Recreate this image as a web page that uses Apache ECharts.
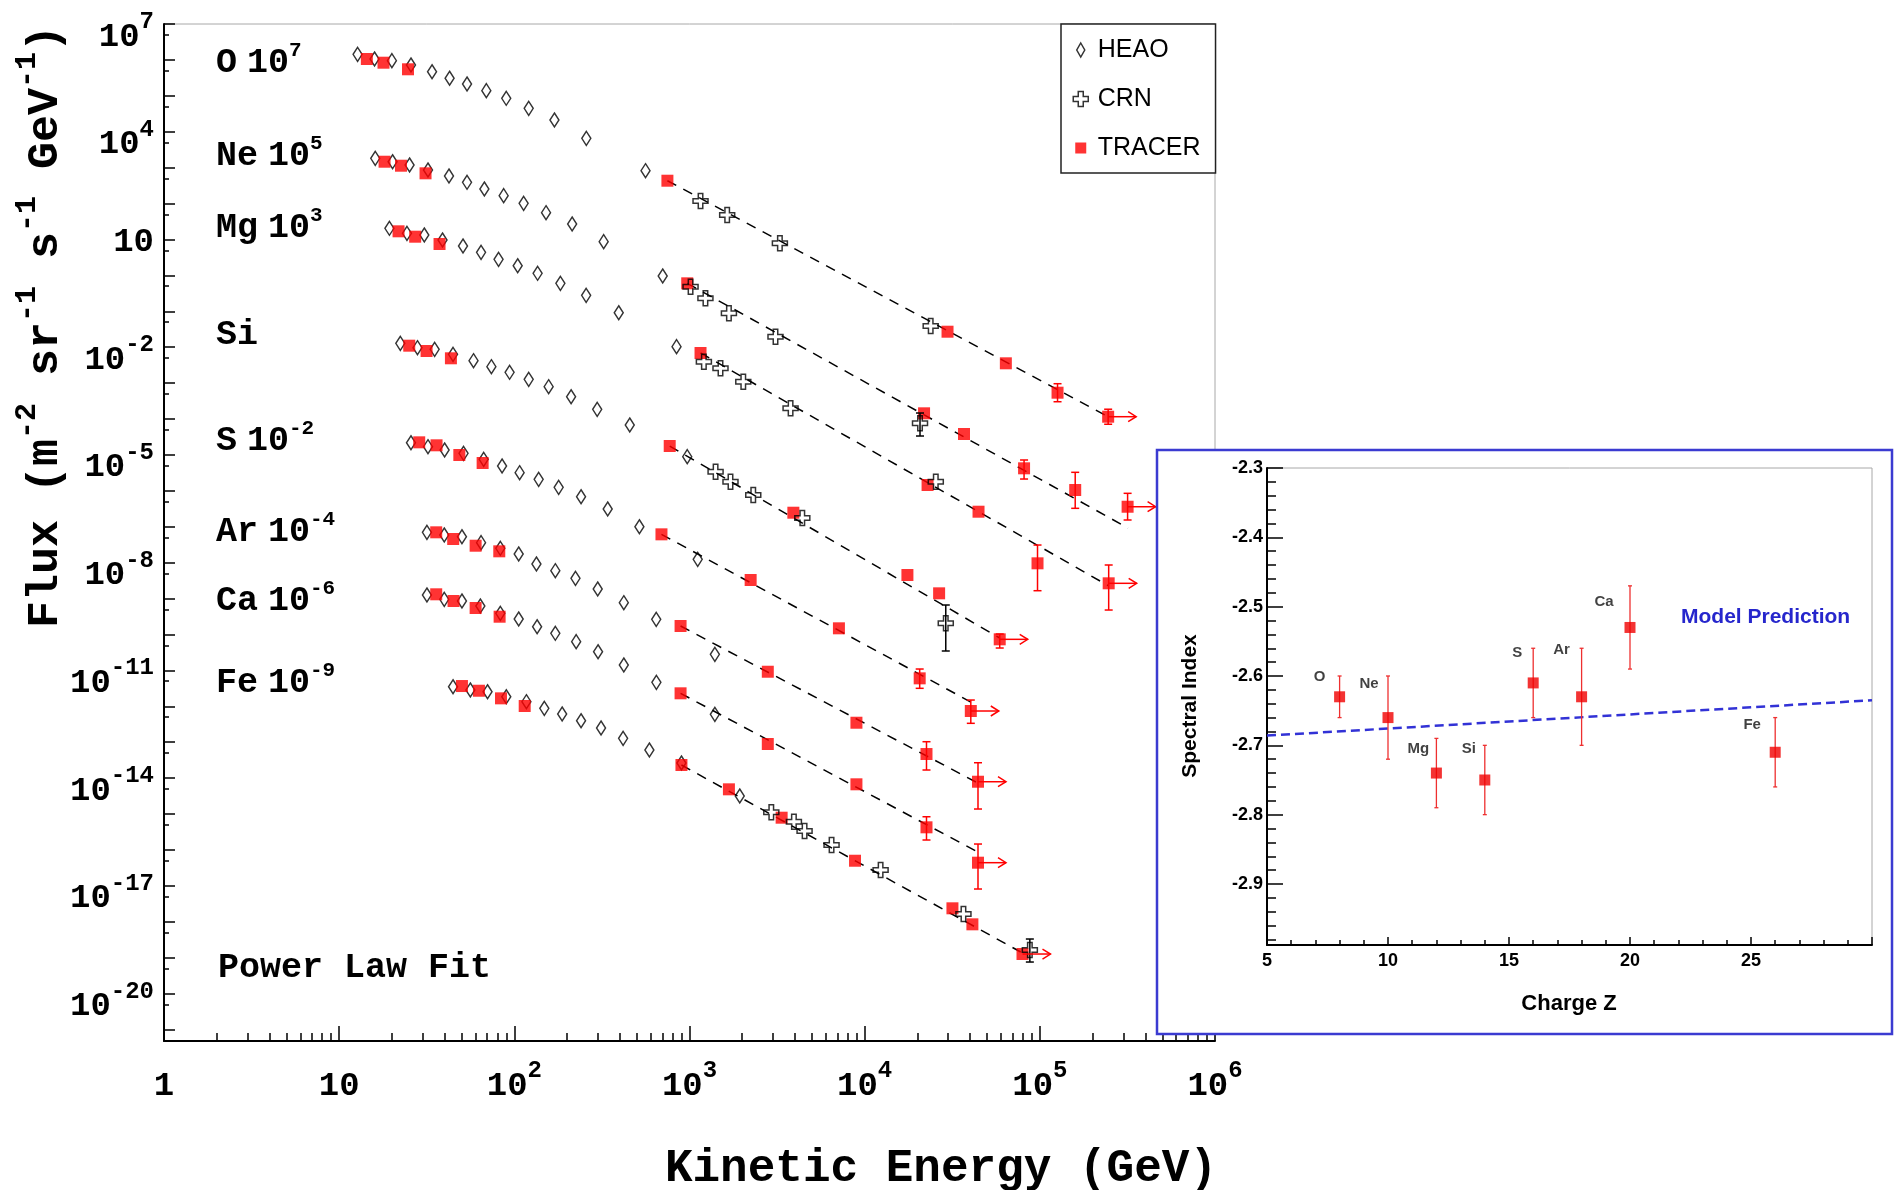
<!DOCTYPE html>
<html><head><meta charset="utf-8">
<script src="https://cdn.jsdelivr.net/npm/echarts@6/dist/echarts.min.js"></script>
<style>html,body{margin:0;padding:0;background:#fff}#main{width:1896px;height:1190px}</style>
</head><body><div id="main"></div>
<script>
// ---------------- DATA (energy in GeV, flux scaled as plotted) ----------------
const O_heaoE = [12.74, 15.92, 20.0, 25.7, 33.9, 42.7, 53.7, 69.2, 89.9, 120.8, 169.4, 257.6, 561];
const O_heaoF = [1.43e6, 1.06e6, 9.51e5, 7.21e5, 4.69e5, 3.08e5, 2.13e5, 1.39e5, 8.53e4, 4.49e4, 2.12e4, 6.56e3, 822];
const O_tracerE = [14.39, 17.91, 24.72, 748, 29720, 63970, 126200, 245500];
const O_tracerF = [1.06e6, 8.36e5, 5.48e5, 432.5, 2.70e-2, 3.56e-3, 5.41e-4, 1.16e-4];
const O_tracerLo = [null, null, null, null, null, null, 3.03e-4, 7.16e-5];
const O_tracerHi = [null, null, null, null, null, null, 9.62e-4, 1.875e-4];
const O_crnE = [1156, 1641, 3281, 23820];
const O_crnF = [117.8, 47.97, 7.816, 0.0389];
const O_crnLo = [null, null, null, null];
const O_crnHi = [null, null, null, null];
const O_fitE = [748, 245500];
const O_fitF = [432.5, 1.159e-4];

const Ne_heaoE = [16.07, 20.18, 25.23, 32.14, 42.36, 53.70, 67.45, 86.90, 113.0, 151.7, 213.8, 323.6, 703.1];
const Ne_heaoF = [1820, 1462, 1186, 859, 585, 391, 254, 165.6, 101.6, 55.6, 26.9, 8.67, 0.959];
const Ne_tracerE = [18.16, 22.54, 31.12, 970.6, 21830, 36900, 81280, 159200, 317000];
const Ne_tracerF = [1462, 1132, 695, 0.601, 1.442e-4, 3.83e-5, 4.24e-6, 1.054e-6, 3.61e-7];
const Ne_tracerLo = [null, null, null, null, null, null, 2.133e-6, 3.26e-7, 1.542e-7];
const Ne_tracerHi = [null, null, null, null, null, null, 7.23e-6, 3.28e-6, 8.53e-7];
const Ne_crnE = [1014, 1233, 1679, 3097, 20700];
const Ne_crnF = [0.483, 0.2296, 0.0879, 0.01959, 7.59e-5];
const Ne_crnLo = [null, null, null, null, 3.365e-5];
const Ne_crnHi = [null, null, null, null, 1.469e-4];
const Ne_fitE = [970.6, 318400];
const Ne_fitF = [0.601, 9.23e-8];

const Mg_heaoE = [19.36, 24.38, 30.62, 38.90, 50.93, 64.57, 81.28, 104.5, 135.8, 183.2, 257.0, 394.5, 843.3];
const Mg_heaoF = [20.46, 14.83, 13.30, 9.66, 6.58, 4.385, 2.799, 1.858, 1.143, 0.601, 0.2786, 0.0912, 0.01033];
const Mg_tracerE = [21.83, 27.16, 37.41, 1156, 22860, 44670, 97000, 247200];
const Mg_tracerF = [16.87, 11.94, 7.48, 6.89e-3, 1.452e-6, 2.624e-7, 9.59e-9, 2.661e-9];
const Mg_tracerLo = [null, null, null, null, null, null, 1.656e-9, 4.80e-10];
const Mg_tracerHi = [null, null, null, null, null, null, 3.097e-8, 8.61e-9];
const Mg_crnE = [1208, 1503, 2028, 3776, 25470];
const Mg_crnF = [3.945e-3, 2.582e-3, 1.094e-3, 1.986e-4, 1.795e-6];
const Mg_crnLo = [null, null, null, null, null];
const Mg_crnHi = [null, null, null, null, null];
const Mg_fitE = [1156, 247700];
const Mg_fitF = [6.89e-3, 2.239e-9];

const Si_heaoE = [22.34, 27.99, 35.08, 44.67, 58.48, 73.96, 93.97, 120.8, 157.0, 210.9, 297.2, 456.0, 970.6];
const Si_heaoF = [0.01282, 9.68e-3, 8.73e-3, 6.34e-3, 4.207e-3, 2.864e-3, 2.000e-3, 1.276e-3, 7.94e-4, 4.18e-4, 1.862e-4, 6.81e-5, 8.93e-6];
const Si_tracerE = [25.12, 31.55, 43.45, 771.0, 3917, 17540, 26610, 59020];
const Si_tracerF = [0.01102, 7.83e-3, 4.909e-3, 1.770e-5, 2.46e-7, 4.53e-9, 1.400e-9, 7.33e-11];
const Si_tracerLo = [null, null, null, null, null, null, null, 4.20e-11];
const Si_tracerHi = [null, null, null, null, null, null, null, 1.030e-10];
const Si_crnE = [1409, 1714, 2312, 4406, 29040];
const Si_crnF = [3.41e-6, 1.795e-6, 7.66e-7, 1.750e-7, 2.046e-10];
const Si_crnLo = [null, null, null, null, 3.47e-11];
const Si_crnHi = [null, null, null, null, 6.62e-10];
const Si_fitE = [771, 59020];
const Si_fitF = [1.770e-5, 7.98e-11];

const S_heaoE = [25.70, 32.14, 39.99, 51.29, 66.83, 85.11, 107.2, 137.7, 179.1, 240.4, 341.2, 517.6, 1114];
const S_heaoF = [2.188e-5, 1.694e-5, 1.371e-5, 1.109e-5, 7.55e-6, 4.91e-6, 3.199e-6, 2.094e-6, 1.253e-6, 6.86e-7, 3.119e-7, 1.002e-7, 1.239e-8];
const S_tracerE = [28.64, 35.97, 48.53, 65.92, 691.8, 2234, 7129, 20610, 40360];
const S_tracerF = [2.244e-5, 1.854e-5, 9.95e-6, 5.96e-6, 6.15e-8, 3.289e-9, 1.486e-10, 6.01e-12, 7.40e-13];
const S_tracerLo = [null, null, null, null, null, null, null, 3.17e-12, 3.36e-13];
const S_tracerHi = [null, null, null, null, null, null, null, 1.092e-11, 1.496e-12];
const S_crnE = [];
const S_crnF = [];
const S_crnLo = [];
const S_crnHi = [];
const S_fitE = [691.8, 40360];
const S_fitF = [6.15e-8, 1.315e-12];

const Ar_heaoE = [31.70, 39.81, 50.23, 64.57, 83.18, 105.9, 133.7, 171.4, 223.4, 299.2, 421.7, 645.7, 1396];
const Ar_heaoF = [7.00e-8, 5.89e-8, 5.28e-8, 3.60e-8, 2.512e-8, 1.742e-8, 9.16e-9, 5.97e-9, 3.66e-9, 1.845e-9, 7.67e-10, 2.642e-10, 2.805e-11];
const Ar_tracerE = [35.81, 44.77, 60.12, 82.04, 889.2, 2799, 8974, 22540, 44360];
const Ar_tracerF = [7.00e-8, 4.56e-8, 2.965e-8, 2.070e-8, 1.722e-10, 9.18e-12, 3.49e-13, 4.69e-14, 7.94e-15];
const Ar_tracerLo = [null, null, null, null, null, null, null, 1.683e-14, 1.380e-15];
const Ar_tracerHi = [null, null, null, null, null, null, null, 1.033e-13, 2.685e-14];
const Ar_crnE = [];
const Ar_crnF = [];
const Ar_crnLo = [];
const Ar_crnHi = [];
const Ar_fitE = [889.2, 44260];
const Ar_fitF = [1.722e-10, 7.31e-15];

const Ca_heaoE = [31.70, 39.81, 50.23, 63.97, 83.18, 105.9, 134.9, 171.4, 225.4, 300.6, 421.7, 647.1, 1396];
const Ca_heaoF = [1.256e-9, 9.53e-10, 8.55e-10, 6.21e-10, 3.88e-10, 2.698e-10, 1.644e-10, 1.079e-10, 6.30e-11, 3.311e-11, 1.413e-11, 4.656e-12, 5.98e-13];
const Ca_tracerE = [35.81, 44.98, 60.12, 82.41, 889.2, 2799, 8974, 22540, 44360];
const Ca_tracerF = [1.315e-9, 8.55e-10, 5.46e-10, 3.126e-10, 2.301e-12, 8.91e-14, 6.73e-15, 4.27e-16, 4.42e-17];
const Ca_tracerLo = [null, null, null, null, null, null, null, 1.892e-16, 8.17e-18];
const Ca_tracerHi = [null, null, null, null, null, null, null, 8.41e-16, 1.462e-16];
const Ca_crnE = [];
const Ca_crnF = [];
const Ca_crnLo = [];
const Ca_crnHi = [];
const Ca_fitE = [889.2, 44260];
const Ca_fitF = [2.301e-12, 8.75e-17];

const Fe_heaoE = [44.67, 56.10, 70.31, 89.95, 117.2, 148.3, 187.5, 240.4, 312.6, 417.8, 590.2, 899.5, 1936];
const Fe_heaoF = [3.51e-12, 2.844e-12, 2.547e-12, 1.849e-12, 1.343e-12, 8.79e-13, 6.10e-13, 3.97e-13, 2.483e-13, 1.285e-13, 6.07e-14, 2.636e-14, 3.18e-15];
const Fe_tracerE = [50.23, 62.81, 83.95, 114.6, 899.5, 1679, 3357, 8810, 31700, 41210, 79620];
const Fe_tracerF = [3.67e-12, 2.716e-12, 1.667e-12, 1.019e-12, 2.317e-14, 4.88e-15, 7.91e-16, 5.01e-17, 2.371e-18, 8.49e-19, 1.265e-19];
const Fe_tracerLo = [null, null, null, null, null, null, null, null, null, null, null];
const Fe_tracerHi = [null, null, null, null, null, null, null, null, null, null, null];
const Fe_crnE = [2931, 3945, 4539, 6471, 12330, 36640, 87700];
const Fe_crnF = [1.117e-15, 6.11e-16, 3.365e-16, 1.371e-16, 2.761e-17, 1.644e-18, 1.633e-19];
const Fe_crnLo = [null, null, null, null, null, null, 7.57e-20];
const Fe_crnHi = [null, null, null, null, null, null, 3.31e-19];
const Fe_fitE = [899.5, 77800];
const Fe_fitF = [2.317e-14, 1.439e-19];

// element labels and their plotting multipliers (exponent of 10)
const elementNames = ['O', 'Ne', 'Mg', 'Si', 'S', 'Ar', 'Ca', 'Fe'];
const elementScaleExp = ['7', '5', '3', null, '-2', '-4', '-6', '-9'];

// main axes tick labels (exponents)
const xTickExp = [0, 1, 2, 3, 4, 5, 6];
const yTickExp = [-20, -17, -14, -11, -8, -5, -2, 1, 4, 7];

// inset: spectral index vs charge
const insetZ = [8, 10, 12, 14, 16, 18, 20, 26];
const insetIndex = [-2.63, -2.66, -2.74, -2.75, -2.61, -2.63, -2.53, -2.71];
const insetLo = [-2.66, -2.72, -2.79, -2.80, -2.66, -2.70, -2.59, -2.76];
const insetHi = [-2.60, -2.60, -2.69, -2.70, -2.56, -2.56, -2.47, -2.66];
const modelZ = [5, 30];
const modelIndex = [-2.686, -2.635];
const insetXTicks = [5, 10, 15, 20, 25];
const insetYTicks = [-2.3, -2.4, -2.5, -2.6, -2.7, -2.8, -2.9];

// ---------------- BUILD ----------------
const L = Math.log10;
const els = [
  ['O', O_heaoE, O_heaoF, O_tracerE, O_tracerF, O_tracerLo, O_tracerHi, O_crnE, O_crnF, O_crnLo, O_crnHi, O_fitE, O_fitF],
  ['Ne', Ne_heaoE, Ne_heaoF, Ne_tracerE, Ne_tracerF, Ne_tracerLo, Ne_tracerHi, Ne_crnE, Ne_crnF, Ne_crnLo, Ne_crnHi, Ne_fitE, Ne_fitF],
  ['Mg', Mg_heaoE, Mg_heaoF, Mg_tracerE, Mg_tracerF, Mg_tracerLo, Mg_tracerHi, Mg_crnE, Mg_crnF, Mg_crnLo, Mg_crnHi, Mg_fitE, Mg_fitF],
  ['Si', Si_heaoE, Si_heaoF, Si_tracerE, Si_tracerF, Si_tracerLo, Si_tracerHi, Si_crnE, Si_crnF, Si_crnLo, Si_crnHi, Si_fitE, Si_fitF],
  ['S', S_heaoE, S_heaoF, S_tracerE, S_tracerF, S_tracerLo, S_tracerHi, S_crnE, S_crnF, S_crnLo, S_crnHi, S_fitE, S_fitF],
  ['Ar', Ar_heaoE, Ar_heaoF, Ar_tracerE, Ar_tracerF, Ar_tracerLo, Ar_tracerHi, Ar_crnE, Ar_crnF, Ar_crnLo, Ar_crnHi, Ar_fitE, Ar_fitF],
  ['Ca', Ca_heaoE, Ca_heaoF, Ca_tracerE, Ca_tracerF, Ca_tracerLo, Ca_tracerHi, Ca_crnE, Ca_crnF, Ca_crnLo, Ca_crnHi, Ca_fitE, Ca_fitF],
  ['Fe', Fe_heaoE, Fe_heaoF, Fe_tracerE, Fe_tracerF, Fe_tracerLo, Fe_tracerHi, Fe_crnE, Fe_crnF, Fe_crnLo, Fe_crnHi, Fe_fitE, Fe_fitF]
];

const DIAMOND = 'path://M5,0L10,8L5,16L0,8Z';
const CROSS = 'path://M3.5,0L6.5,0L6.5,3.5L10,3.5L10,6.5L6.5,6.5L6.5,10L3.5,10L3.5,6.5L0,6.5L0,3.5L3.5,3.5Z';
const HOLLOW = 'rgba(0,0,0,0)';
const RED = '#ff0000';

const pts = (E, F) => E.map((e, i) => [L(e), L(F[i])]);
const series = [];
const errRed = [], errBlack = [], arrows = [];
els.forEach(([nm, hE, hF, tE, tF, tLo, tHi, cE, cF, cLo, cHi, fE, fF]) => {
  series.push({ type: 'line', xAxisIndex: 0, yAxisIndex: 0, data: pts(fE, fF), symbol: 'none', silent: true,
    lineStyle: { color: '#000', width: 1.5, type: [10, 8] }, z: 2 });
  series.push({ type: 'scatter', name: 'HEAO', xAxisIndex: 0, yAxisIndex: 0, data: pts(hE, hF), symbol: DIAMOND, symbolSize: [9, 14],
    itemStyle: { color: HOLLOW, borderColor: '#000', borderWidth: 1.5 }, z: 3 });
  series.push({ type: 'scatter', name: 'TRACER', xAxisIndex: 0, yAxisIndex: 0, data: pts(tE, tF), symbol: 'rect', symbolSize: 12,
    itemStyle: { color: RED }, z: 4 });
  if (cE.length) series.push({ type: 'scatter', name: 'CRN', xAxisIndex: 0, yAxisIndex: 0, data: pts(cE, cF), symbol: CROSS, symbolSize: 15,
    itemStyle: { color: HOLLOW, borderColor: '#000', borderWidth: 1.5 }, z: 5 });
  tE.forEach((e, i) => { if (tLo[i] != null) errRed.push([L(e), L(tLo[i]), L(tHi[i])]); });
  cE.forEach((e, i) => { if (cLo[i] != null) errBlack.push([L(e), L(cLo[i]), L(cHi[i])]); });
  const k = tE.length - 1;
  arrows.push([L(tE[k]), L(tF[k])]);
});

function errSeries(data, color, xi, yi, cap, lw, z) {
  return { type: 'custom', xAxisIndex: xi, yAxisIndex: yi, silent: true, z: z, data: data,
    encode: { x: 0, y: [1, 2] },
    renderItem: (p, api) => {
      const a = api.coord([api.value(0), api.value(1)]);
      const b = api.coord([api.value(0), api.value(2)]);
      const st = { stroke: color, lineWidth: lw };
      return { type: 'group', children: [
        { type: 'line', shape: { x1: a[0], y1: a[1], x2: b[0], y2: b[1] }, style: st },
        { type: 'line', shape: { x1: a[0] - cap, y1: a[1], x2: a[0] + cap, y2: a[1] }, style: st },
        { type: 'line', shape: { x1: b[0] - cap, y1: b[1], x2: b[0] + cap, y2: b[1] }, style: st }
      ] };
    } };
}
series.push(errSeries(errRed, RED, 0, 0, 4, 1.5, 6));
series.push(errSeries(errBlack, '#000', 0, 0, 4, 1.5, 6));
series.push({ type: 'custom', xAxisIndex: 0, yAxisIndex: 0, silent: true, z: 6, data: arrows,
  renderItem: (p, api) => {
    const c = api.coord([api.value(0), api.value(1)]);
    const len = 28, hl = 8, hw = 5;
    const st = { stroke: RED, lineWidth: 1.5, fill: 'none' };
    return { type: 'group', children: [
      { type: 'line', shape: { x1: c[0], y1: c[1], x2: c[0] + len, y2: c[1] }, style: st },
      { type: 'polyline', shape: { points: [[c[0] + len - hl, c[1] - hw], [c[0] + len, c[1]], [c[0] + len - hl, c[1] + hw]] }, style: st }
    ] };
  } });

// inset series
const insetLabelOffsets = [[-20, -20], [-19, -34], [-18, -24], [-16, -31], [-16, -30], [-20, -47], [-26, -26], [-23, -27]];
series.push({ type: 'line', xAxisIndex: 2, yAxisIndex: 2, data: modelZ.map((z, i) => [z, modelIndex[i]]), symbol: 'none', silent: true,
  lineStyle: { color: '#3232d6', width: 2.5, type: [9, 5] }, z: 61 });
series.push(errSeries(insetZ.map((z, i) => [z, insetLo[i], insetHi[i]]), '#ee3030', 2, 2, 2, 1.3, 62));
series.push({ type: 'scatter', xAxisIndex: 2, yAxisIndex: 2, z: 63, symbol: 'rect', symbolSize: 11, itemStyle: { color: '#f00000' },
  data: insetZ.map((z, i) => ({ value: [z, insetIndex[i]],
    label: { show: true, position: 'inside', formatter: elementNames[i], offset: insetLabelOffsets[i],
      fontFamily: 'Liberation Sans', fontWeight: 'bold', fontSize: 15, color: '#111' } })) });

// ticks (layout)
const xMinor = [];
for (let n = 0; n < 6; n++) for (let k = 2; k <= 9; k++) xMinor.push(n + L(k));
const yDec = [];
for (let n = -21; n <= 7; n++) yDec.push(n);
const yHalf = [];
for (let n = -21; n <= 6; n++) yHalf.push(n + L(5));
const ixMinor = [];
for (let z = 6; z < 30; z++) if (z % 5) ixMinor.push(z);
const iyMajor = insetYTicks.slice();
const iyMinor = [];
for (let i = 1; i <= 34; i++) if (i % 5) iyMinor.push(Math.round((-2.3 - 0.02 * i) * 100) / 100);

const MONO = 'Liberation Mono';
const axRich = {
  b: { fontFamily: MONO, fontWeight: 'bold', fontSize: 34, lineHeight: 50, verticalAlign: 'bottom', color: '#000' },
  c: { fontFamily: MONO, fontWeight: 'bold', fontSize: 34, lineHeight: 50, verticalAlign: 'bottom', color: '#000', padding: [0, 0, 10, 0] },
  s: { fontFamily: MONO, fontWeight: 'bold', fontSize: 24, lineHeight: 18, verticalAlign: 'bottom', color: '#000', padding: [0, 0, 20, 0] }
};
const blackLine = { show: true, onZero: false, lineStyle: { color: '#000', width: 2 } };
const noLine = { show: false, onZero: false };

const xAxis = [
  { gridIndex: 0, type: 'value', min: 0, max: 6, position: 'bottom', axisLine: blackLine, splitLine: { show: false },
    axisTick: { show: true, inside: true, length: 15, customValues: xTickExp, lineStyle: { color: '#000', width: 1.5 } },
    axisLabel: { customValues: xTickExp, margin: 12, rich: axRich,
      formatter: v => { const n = Math.round(v); return n === 0 ? '{b|1}' : n === 1 ? '{b|10}' : '{b|10}{s|' + n + '}'; } } },
  { gridIndex: 0, type: 'value', min: 0, max: 6, position: 'bottom', axisLine: noLine, splitLine: { show: false },
    axisTick: { show: true, inside: true, length: 8, customValues: xMinor, lineStyle: { color: '#000', width: 1.5 } },
    axisLabel: { show: false } },
  { gridIndex: 1, type: 'value', min: 5, max: 30, position: 'bottom', z: 60, axisLine: blackLine, splitLine: { show: false },
    axisTick: { show: true, inside: true, length: 8, customValues: [5, 10, 15, 20, 25, 30], lineStyle: { color: '#000', width: 1.5 } },
    axisLabel: { customValues: insetXTicks, margin: 7, fontFamily: 'Liberation Sans', fontWeight: 'bold', fontSize: 18, color: '#000' } },
  { gridIndex: 1, type: 'value', min: 5, max: 30, position: 'bottom', z: 60, axisLine: noLine, splitLine: { show: false },
    axisTick: { show: true, inside: true, length: 5, customValues: ixMinor, lineStyle: { color: '#000', width: 1.5 } },
    axisLabel: { show: false } }
];
const yAxis = [
  { gridIndex: 0, type: 'value', min: -21.32, max: 7, position: 'left', axisLine: blackLine, splitLine: { show: false },
    axisTick: { show: true, inside: true, length: 11, customValues: yDec, lineStyle: { color: '#000', width: 1.5 } },
    axisLabel: { customValues: yTickExp, margin: 10, rich: axRich, padding: [10, 0, 0, 0],
      formatter: v => { const n = Math.round(v); return n === 1 ? '{c|10}' : '{b|10}{s|' + n + '}'; } } },
  { gridIndex: 0, type: 'value', min: -21.32, max: 7, position: 'left', axisLine: noLine, splitLine: { show: false },
    axisTick: { show: true, inside: true, length: 5, customValues: yHalf, lineStyle: { color: '#000', width: 1.5 } },
    axisLabel: { show: false } },
  { gridIndex: 1, type: 'value', min: -2.988, max: -2.3, position: 'left', z: 60, axisLine: blackLine, splitLine: { show: false },
    axisTick: { show: true, inside: true, length: 16, customValues: iyMajor, lineStyle: { color: '#000', width: 1.5 } },
    axisLabel: { customValues: insetYTicks, margin: 4, fontFamily: 'Liberation Sans', fontWeight: 'bold', fontSize: 18, color: '#000',
      formatter: v => v.toFixed(1) } },
  { gridIndex: 1, type: 'value', min: -2.988, max: -2.3, position: 'left', z: 60, axisLine: noLine, splitLine: { show: false },
    axisTick: { show: true, inside: true, length: 9, customValues: iyMinor, lineStyle: { color: '#000', width: 1.5 } },
    axisLabel: { show: false } }
];

// text annotations
const annRich = {
  m: { fontFamily: MONO, fontWeight: 'bold', fontSize: 35, lineHeight: 42, verticalAlign: 'bottom', fill: '#000' },
  g: { fontFamily: MONO, fontWeight: 'bold', fontSize: 35, lineHeight: 42, verticalAlign: 'bottom', fill: '#000', padding: [0, 0, 0, 10] },
  s: { fontFamily: MONO, fontWeight: 'bold', fontSize: 21, lineHeight: 18, verticalAlign: 'bottom', fill: '#000', padding: [0, 0, 20, 0] }
};
const annY = [60, 153, 225, 332, 438, 529, 598, 680];
const graphic = [
  { type: 'rect', z: 50, silent: true, shape: { x: 1157, y: 450, width: 735, height: 584 },
    style: { fill: '#fff', stroke: '#3b3bd1', lineWidth: 2.5 } }
];
elementNames.forEach((nm, i) => {
  const e = elementScaleExp[i];
  graphic.push({ type: 'text', z: 10, silent: true, x: 216, y: annY[i],
    style: { text: e ? '{m|' + nm + '}{g|10}{s|' + e + '}' : '{m|' + nm + '}', rich: annRich, align: 'left', verticalAlign: 'middle' } });
});
graphic.push({ type: 'text', z: 10, silent: true, x: 218, y: 965,
  style: { text: '{m|Power Law Fit}', rich: annRich, align: 'left', verticalAlign: 'middle' } });
graphic.push({ type: 'text', z: 10, silent: true, x: 1217, y: 1169,
  style: { text: 'Kinetic Energy (GeV)', fontFamily: MONO, fontWeight: 'bold', fontSize: 46, fill: '#000', align: 'right', verticalAlign: 'middle' } });
graphic.push({ type: 'text', z: 10, silent: true, x: 40, y: 628, rotation: Math.PI / 2,
  style: { text: '{t|Flux (m}{u|-2}{t| sr}{u|-1}{t| s}{u|-1}{t| GeV}{u|-1}{t|)}', align: 'left', verticalAlign: 'middle',
    rich: {
      t: { fontFamily: MONO, fontWeight: 'bold', fontSize: 45, lineHeight: 56, verticalAlign: 'bottom', fill: '#000' },
      u: { fontFamily: MONO, fontWeight: 'bold', fontSize: 30, lineHeight: 24, verticalAlign: 'bottom', fill: '#000', padding: [0, 0, 26, 0] }
    } } });
graphic.push({ type: 'text', z: 70, silent: true, x: 1190, y: 706, rotation: Math.PI / 2,
  style: { text: 'Spectral Index', fontFamily: 'Liberation Sans', fontWeight: 'bold', fontSize: 21, fill: '#000', align: 'center', verticalAlign: 'middle' } });
graphic.push({ type: 'text', z: 70, silent: true, x: 1569, y: 1004,
  style: { text: 'Charge Z', fontFamily: 'Liberation Sans', fontWeight: 'bold', fontSize: 22, fill: '#000', align: 'center', verticalAlign: 'middle' } });
graphic.push({ type: 'text', z: 70, silent: true, x: 1681, y: 617,
  style: { text: 'Model Prediction', fontFamily: 'Liberation Sans', fontWeight: 'bold', fontSize: 21, fill: '#2626cc', align: 'left', verticalAlign: 'middle' } });

const option = {
  animation: false,
  backgroundColor: '#fff',
  grid: [
    { left: 164, right: 681, top: 24, bottom: 149, show: true, borderColor: '#a8a8a8', borderWidth: 1, backgroundColor: 'transparent', containLabel: false },
    { left: 1267, right: 24, top: 468, bottom: 245, show: true, borderColor: '#a8a8a8', borderWidth: 1, backgroundColor: 'transparent', z: 60, containLabel: false }
  ],
  xAxis: xAxis,
  yAxis: yAxis,
  legend: {
    show: true, orient: 'vertical', left: 1061, top: 24, padding: [12, 15, 11, 7],
    itemWidth: 24, itemHeight: 16, itemGap: 21, selectedMode: false,
    backgroundColor: '#fff', borderColor: '#222', borderWidth: 1.5, borderRadius: 0,
    textStyle: { fontFamily: 'Liberation Sans', fontSize: 25, color: '#000', lineHeight: 28 },
    data: [
      { name: 'HEAO', icon: 'path://M0,0M24,16M12,1L16,8L12,15L8,8Z', itemStyle: { color: HOLLOW, borderColor: '#000', borderWidth: 1.5 } },
      { name: 'CRN', icon: 'path://M0,0M24,16M9.5,0.5L14.5,0.5L14.5,5.5L19.5,5.5L19.5,10.5L14.5,10.5L14.5,15.5L9.5,15.5L9.5,10.5L4.5,10.5L4.5,5.5L9.5,5.5Z', itemStyle: { color: HOLLOW, borderColor: '#000', borderWidth: 1.5 } },
      { name: 'TRACER', icon: 'path://M0,0M24,16M6.5,2.5L17.5,2.5L17.5,13.5L6.5,13.5Z', itemStyle: { color: RED, borderWidth: 0 } }
    ]
  },
  graphic: graphic,
  series: series
};

const chart = echarts.init(document.getElementById('main'), null, { renderer: 'canvas' });
chart.setOption(option);
</script></body></html>
